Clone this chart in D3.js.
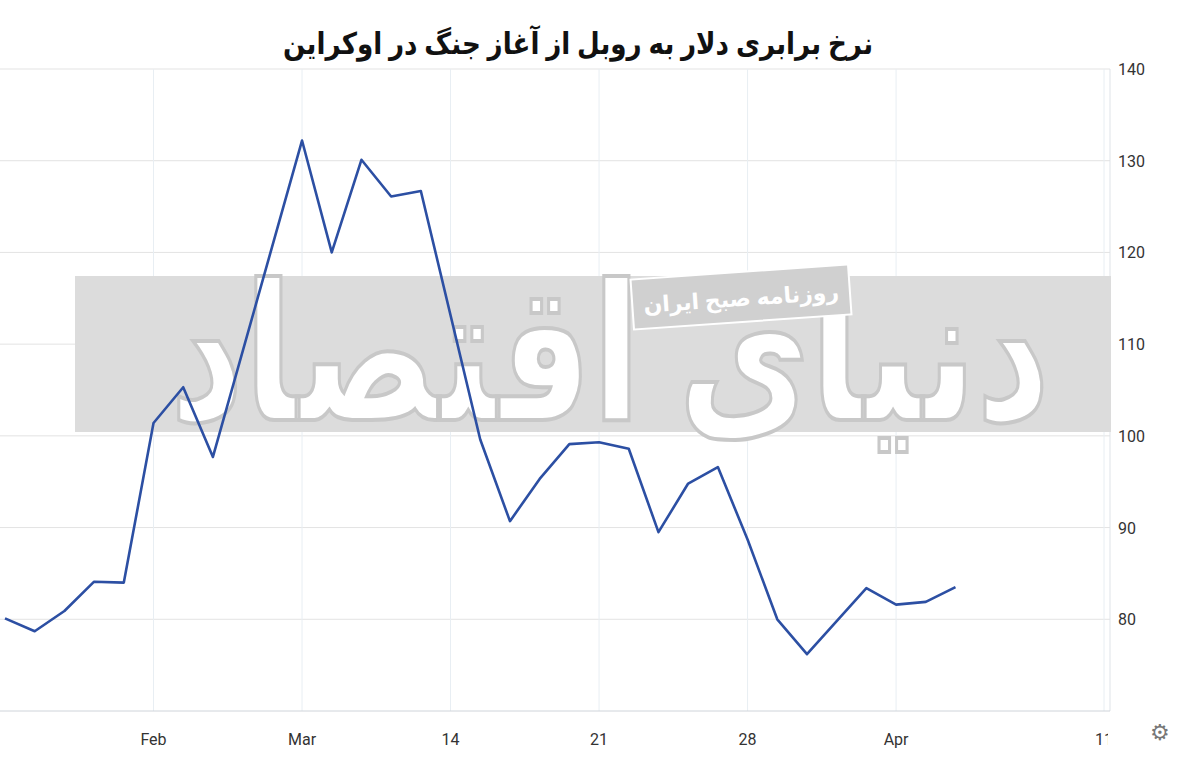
<!DOCTYPE html><html><head><meta charset="utf-8"><script src="https://cdn.jsdelivr.net/npm/d3@7"></script>
<style>body{margin:0;background:#fff}svg{display:block}</style></head><body><svg width="1200" height="766"></svg><script>
const dayIndex=[0,1,2,3,4,5,6,7,10,11,12,13,14,16,17,18,19,20,21,22,23,24,25,26,27,28,29,30,31,32];
const rubPerUsd=[80.1,78.7,80.9,84.1,84.0,101.4,105.3,97.7,132.2,120.0,130.1,126.1,126.7,99.6,90.7,95.3,99.1,99.3,98.6,89.5,94.8,96.6,88.7,80.0,76.2,79.8,83.4,81.6,81.9,83.5];
const xTickIdx=[5,10,15,20,25,30,37];
const xTickLabels=["Feb","Mar","14","21","28","Apr","11"];
const yTicks=[80,90,100,110,120,130,140];
const title="نرخ برابری دلار به روبل از آغاز جنگ در اوکراین";
const svg=d3.select("svg");
const x=d3.scaleLinear().domain([0,37]).range([5,1104]);
const y=d3.scaleLinear().domain([70,140]).range([711,69]);
const g=svg.append("g");
g.selectAll(".hg").data(yTicks).join("line").attr("x1",0).attr("x2",1110).attr("y1",d=>y(d)).attr("y2",d=>y(d)).attr("stroke","#e3e3e3");
g.selectAll(".vg").data(xTickIdx).join("line").attr("x1",d=>x(d)).attr("x2",d=>x(d)).attr("y1",69).attr("y2",711).attr("stroke","#e8eef3");
g.append("line").attr("x1",1110).attr("x2",1110).attr("y1",69).attr("y2",711).attr("stroke","#dfe3e8");
g.append("line").attr("x1",0).attr("x2",1110).attr("y1",711).attr("y2",711).attr("stroke","#cfd4da");
g.append("rect").attr("x",75).attr("y",276).attr("width",1083).attr("height",156).attr("fill","#dcdcdc");
g.append("text").attr("x",610).attr("y",420).attr("text-anchor","middle").attr("font-family","Noto Sans, DejaVu Sans").attr("font-size",190).attr("font-weight","bold").attr("fill","#fff").attr("stroke","#c8c8c8").attr("stroke-width",4).attr("textLength",880).attr("lengthAdjust","spacingAndGlyphs").text("دنیای اقتصاد");
g.append("rect").attr("x",632).attr("y",272).attr("width",218).attr("height",50).attr("fill","#d0d0d0").attr("stroke","#fff").attr("stroke-width",2).attr("transform","rotate(-4 741 297)");
g.append("text").attr("x",741).attr("y",306).attr("text-anchor","middle").attr("font-family","Noto Sans, DejaVu Sans").attr("font-size",22).attr("font-weight","bold").attr("fill","#fff").attr("transform","rotate(-4 741 297)").text("روزنامه صبح ایران");
const pts=dayIndex.map((d,i)=>[d,rubPerUsd[i]]);
g.append("path").datum(pts).attr("fill","none").attr("stroke","#2c4fa3").attr("stroke-width",2.6).attr("stroke-linejoin","round")
 .attr("d",d3.line().x(d=>x(d[0])).y(d=>y(d[1])));
svg.append("rect").attr("x",0).attr("y",0).attr("width",1200).attr("height",68).attr("fill","#fff");
svg.append("rect").attr("x",1111).attr("y",69).attr("width",89).attr("height",650).attr("fill","#fff");
svg.selectAll(".yl").data(yTicks).join("text").attr("x",1118).attr("y",d=>y(d)+6).attr("font-family","Roboto, Arial").attr("font-size",16).attr("fill","#333").text(d=>d);
svg.selectAll(".xl").data(xTickIdx).join("text").attr("x",(d,i)=>x(d)).attr("y",745).attr("text-anchor","middle").attr("font-family","Roboto, Arial").attr("font-size",16).attr("fill","#333").text((d,i)=>xTickLabels[i]);
svg.append("rect").attr("x",1108).attr("y",725).attr("width",40).attr("height",30).attr("fill","#fff");
svg.append("text").attr("x",1160).attr("y",740).attr("text-anchor","middle").attr("font-size",22).attr("fill","#777").text("⚙");
svg.append("text").attr("x",578).attr("y",54).attr("text-anchor","middle").attr("font-family","Noto Sans, DejaVu Sans").attr("font-size",30).attr("font-weight","bold").attr("fill","#111").attr("textLength",590).attr("lengthAdjust","spacingAndGlyphs").text(title);
</script></body></html>
